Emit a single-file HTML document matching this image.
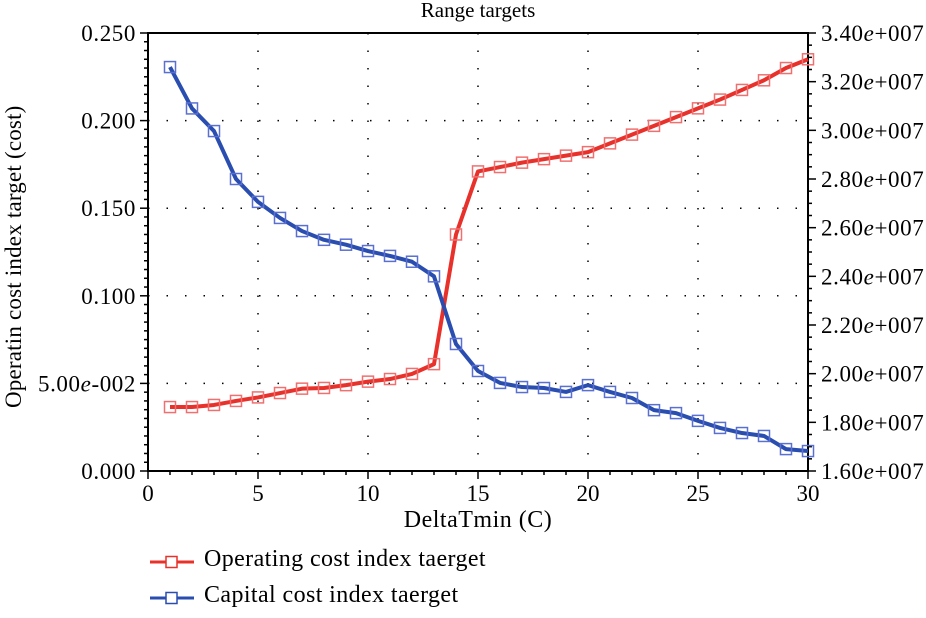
<!DOCTYPE html>
<html><head><meta charset="utf-8"><style>
html,body{margin:0;background:#fff;width:926px;height:611px;overflow:hidden;}
svg{display:block;font-family:"Liberation Serif",serif;}
</style></head><body>
<svg id="chart" width="926" height="611"></svg>
<script>
const xValues=[1,2,3,4,5,6,7,8,9,10,11,12,13,14,15,16,17,18,19,20,21,22,23,24,25,26,27,28,29,30];
const operatingValues=[0.0365,0.0365,0.0377,0.040,0.042,0.0445,0.047,0.0474,0.049,0.051,0.0525,0.0554,0.061,0.135,0.171,0.1735,0.176,0.178,0.180,0.182,0.187,0.192,0.197,0.202,0.207,0.212,0.2175,0.223,0.230,0.235];
const capitalValues=[3.26e7,3.09e7,2.997e7,2.80e7,2.706e7,2.64e7,2.586e7,2.55e7,2.53e7,2.504e7,2.484e7,2.46e7,2.40e7,2.122e7,2.011e7,1.962e7,1.945e7,1.941e7,1.925e7,1.953e7,1.925e7,1.90e7,1.85e7,1.838e7,1.806e7,1.777e7,1.756e7,1.744e7,1.69e7,1.682e7];
const xTicks=[0,5,10,15,20,25,30];
const leftTicks=[0,0.05,0.1,0.15,0.2,0.25];
const leftTickLabels=["0.000","5.00e-002","0.100","0.150","0.200","0.250"];
const rightTicks=[1.6e7,1.8e7,2.0e7,2.2e7,2.4e7,2.6e7,2.8e7,3.0e7,3.2e7,3.4e7];
const rightTickLabels=["1.60","1.80","2.00","2.20","2.40","2.60","2.80","3.00","3.20","3.40"];
const L=148,R=808,T=33,B=471;
const sx=v=>L+(v-0)/(30-0)*(R-L);
const syL=v=>B-(v-0)/(0.25-0)*(B-T);
const syR=v=>B-(v-1.6e7)/(3.4e7-1.6e7)*(B-T);
const svg=document.getElementById('chart');
const NS='http://www.w3.org/2000/svg';
function mk(tag,attrs,parent){const e=document.createElementNS(NS,tag);for(const k in attrs)e.setAttribute(k,attrs[k]);(parent||svg).appendChild(e);return e;}
const grid=mk('g',{});


xTicks.slice(1,-1).forEach(v=>mk('line',{x1:sx(v),x2:sx(v),y1:T,y2:B,stroke:'#000','stroke-width':1.5,'stroke-dasharray':'1.5 16'},grid));
leftTicks.slice(1,-1).forEach(v=>mk('line',{x1:L,x2:R,y1:syL(v),y2:syL(v),stroke:'#000','stroke-width':1.5,'stroke-dasharray':'1.5 17'},grid));
const axes=mk('g',{stroke:'#000','stroke-width':2});


mk('line',{x1:L,x2:L,y1:T,y2:B+1},axes);
mk('line',{x1:R,x2:R,y1:T,y2:B+1},axes);
mk('line',{x1:L-1,x2:R+1,y1:B,y2:B},axes);
mk('line',{x1:L-1,x2:R+1,y1:T,y2:T},axes);
for(let v=0;v<=30.001;v+=1){mk('line',{x1:sx(v),x2:sx(v),y1:B,y2:B+(v%5===0?8:4),'stroke-width':1.5},axes);}
for(let v=0;v<=0.2501;v+=0.005){const y=syL(v);const maj=Math.abs(v/0.05-Math.round(v/0.05))<1e-6;mk('line',{x1:L-(maj?8:4),x2:L,y1:y,y2:y,'stroke-width':1.5},axes);}
for(let v=1.6e7;v<=3.4e7+1;v+=0.05e7){const y=syR(v);const maj=Math.abs((v-1.6e7)/0.2e7-Math.round((v-1.6e7)/0.2e7))<1e-6;mk('line',{x1:R,x2:R+(maj?8:4),y1:y,y2:y,'stroke-width':1.5},axes);}
xTicks.forEach(v=>{const t=mk('text',{x:sx(v),y:B+30,'text-anchor':'middle','font-size':23});t.textContent=v;});
leftTicks.forEach((v,i)=>{const t=mk('text',{x:L-12,y:syL(v)+8,'text-anchor':'end','font-size':23,'letter-spacing':0.6});t.innerHTML=leftTickLabels[i].replace('e','<tspan font-style="italic">e</tspan>');});
rightTicks.forEach((v,i)=>{const t=mk('text',{x:R+13,y:syR(v)+8,'text-anchor':'start','font-size':23,'letter-spacing':0.6});t.innerHTML=rightTickLabels[i]+'<tspan font-style="italic">e</tspan>+007';});
function series(vals,sy,color,mcolor,name){
  const g=mk('g',{});
  
  
  mk('polyline',{points:vals.map((v,i)=>sx(xValues[i])+','+sy(v)).join(' '),fill:'none',stroke:color,'stroke-width':4,'stroke-linejoin':'round'},g);
  vals.forEach((v,i)=>{const r=mk('rect',{x:sx(xValues[i])-5.5,y:sy(v)-5.5,width:11,height:11,fill:'none',stroke:mcolor,'stroke-width':1.5},g);});
}
series(operatingValues,syL,'#e8312a','#f07070','operating-series');
series(capitalValues,syR,'#2a4db0','#5a70d0','capital-series');
</script>
<div style="position:absolute;left:0;top:0;width:926px;height:611px;pointer-events:none;font-family:'Liberation Serif',serif;white-space:nowrap;">
  <div style="position:absolute;left:0;width:956px;top:-2px;text-align:center;font-size:21px;">Range targets</div>
  <div style="position:absolute;left:148px;width:660px;top:507px;text-align:center;font-size:24px;letter-spacing:0.5px;">DeltaTmin (C)</div>
  <div style="position:absolute;left:-136px;top:245px;width:300px;text-align:center;font-size:23px;letter-spacing:0.2px;transform:rotate(-90deg);">Operatin cost index target (cost)</div>
  <div style="position:absolute;left:150px;top:546px;width:600px;font-size:24px;letter-spacing:0.4px;">
    <div style="position:relative;height:36px;">
      <svg width="48" height="20" style="position:absolute;left:0;top:6px;"><line x1="0" y1="10" x2="44" y2="10" stroke="#e8312a" stroke-width="3"/><rect x="16" y="4.5" width="11" height="11" fill="#fff" stroke="#e8312a" stroke-width="1.5"/></svg>
      <span style="position:absolute;left:54px;top:0;">Operating cost index taerget</span></div>
    <div style="position:relative;height:36px;">
      <svg width="48" height="20" style="position:absolute;left:0;top:6px;"><line x1="0" y1="10" x2="44" y2="10" stroke="#2a4db0" stroke-width="3"/><rect x="16" y="4.5" width="11" height="11" fill="#fff" stroke="#2a4db0" stroke-width="1.5"/></svg>
      <span style="position:absolute;left:54px;top:0;">Capital cost index taerget</span></div>
  </div>
</div>
</body></html>
